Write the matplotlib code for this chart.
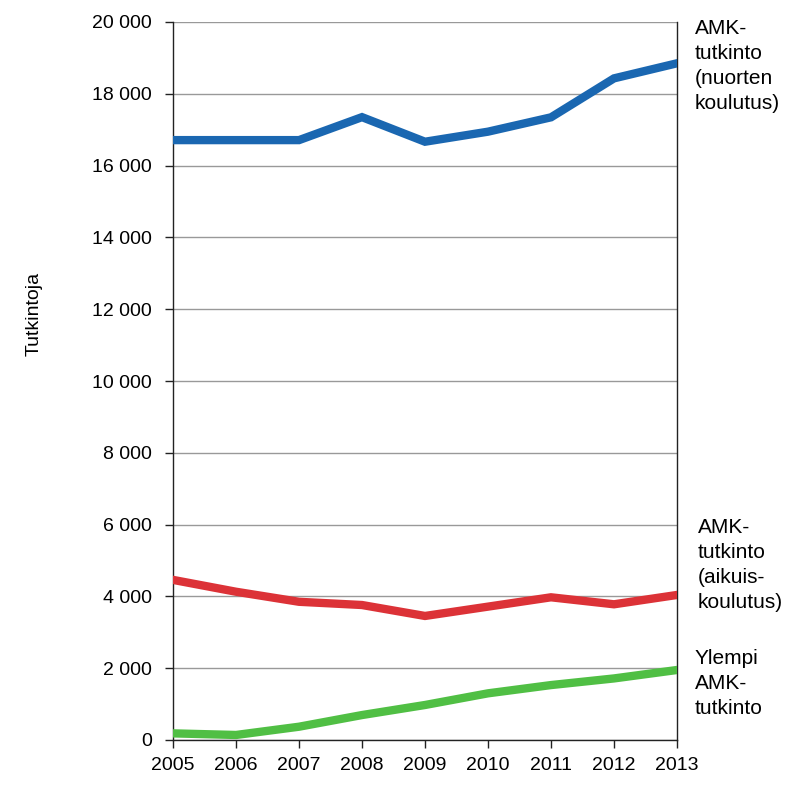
import numpy as np
import matplotlib.pyplot as plt
from matplotlib.ticker import FuncFormatter

plt.rcParams['font.family'] = ['Liberation Sans', 'DejaVu Sans']

# Vuodet ja sarjat
vuodet = [2005, 2006, 2007, 2008, 2009, 2010, 2011, 2012, 2013]
amk_nuoret = [16710, 16710, 16710, 17350, 16665, 16945, 17345, 18430, 18850]
amk_aikuiset = [4460, 4130, 3850, 3760, 3455, 3715, 3975, 3780, 4040]
ylempi_amk = [185, 140, 370, 695, 975, 1300, 1530, 1715, 1950]

sarjat = [
    (amk_nuoret, '#1a67b1', 'AMK-\ntutkinto\n(nuorten\nkoulutus)'),
    (amk_aikuiset, '#dc3237', 'AMK-\ntutkinto\n(aikuis-\nkoulutus)'),
    (ylempi_amk, '#50bf44', 'Ylempi\nAMK-\ntutkinto'),
]

W, H = 796, 802
fig = plt.figure(figsize=(W / 100, H / 100), dpi=100)
ax = fig.add_axes([173 / W, 1 - 740 / H, 504 / W, 718 / H])

for arvot, vari, nimi in sarjat:
    ax.plot(vuodet, arvot, color=vari, linewidth=6, solid_joinstyle='miter', zorder=3)

ax.set_xlim(2005, 2013)
ax.set_ylim(0, 20000)
ax.set_yticks(np.arange(0, 20001, 2000))
ax.set_xticks(vuodet)
ax.yaxis.set_major_formatter(FuncFormatter(lambda v, p: f'{int(v):,}'.replace(',', ' ')))
ax.grid(axis='y', color='#999999', linewidth=1)
ax.set_axisbelow(True)

ax.spines['top'].set_visible(False)
for s in ['left', 'right', 'bottom']:
    ax.spines[s].set_color('#222222')
    ax.spines[s].set_linewidth(1)
ax.tick_params(axis='both', labelsize=14, color='#222222', length=6, width=1)
ax.tick_params(axis='y', pad=9)
ax.tick_params(axis='x', pad=6)

fig.text(34 / W, 1 - 314 / H, 'Tutkintoja', rotation=90, fontsize=14,
         ha='center', va='center')

# Sarjojen nimet oikealla
paikat = [(695, 19), (698, 518), (695, 649)]
for (arvot, vari, nimi), (px, py) in zip(sarjat, paikat):
    fig.text(px / W, 1 - py / H, nimi, fontsize=15, va='top', ha='left',
             linespacing=1.4)

plt.savefig('out.png', dpi=100)
